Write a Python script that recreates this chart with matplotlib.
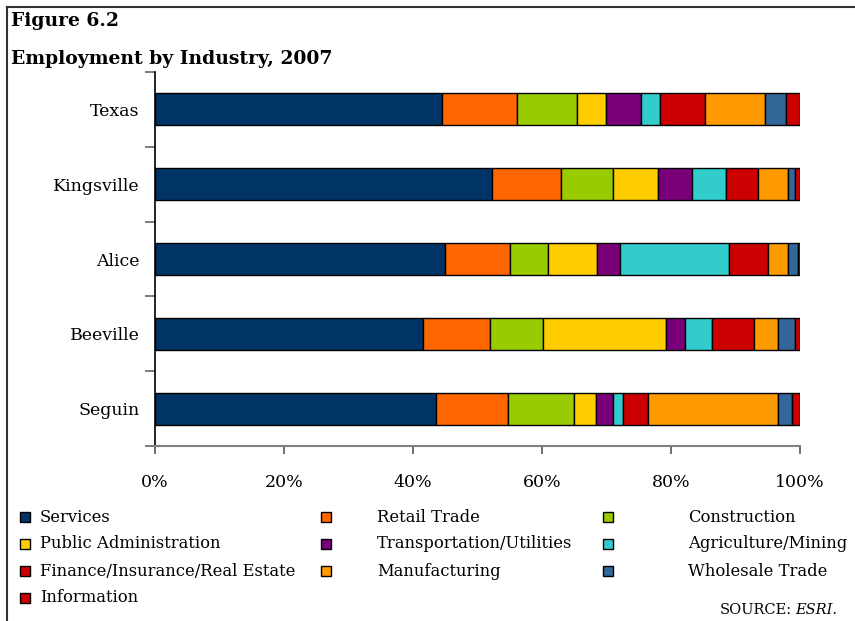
import numpy as np
import matplotlib.pyplot as plt
from matplotlib.patches import Rectangle
from matplotlib.lines import Line2D

# employment shares (%) by industry, 2007
places = ["Texas", "Kingsville", "Alice", "Beeville", "Seguin"]
industries = ["Services", "Retail Trade", "Construction", "Public Administration",
              "Transportation/Utilities", "Agriculture/Mining",
              "Finance/Insurance/Real Estate", "Manufacturing", "Wholesale Trade",
              "Information"]
services = [44.5, 52.2, 44.9, 41.5, 43.6]
retail = [11.6, 10.7, 10.1, 10.4, 11.2]
construction = [9.4, 8.1, 6.0, 8.3, 10.1]
public_admin = [4.4, 7.0, 7.6, 19.1, 3.5]
transport = [5.5, 5.3, 3.5, 2.9, 2.6]
agri_mining = [2.9, 5.2, 16.9, 4.2, 1.5]
fire = [7.0, 5.0, 6.0, 6.5, 4.0]
manufacturing = [9.2, 4.7, 3.1, 3.7, 20.1]
wholesale = [3.4, 1.0, 1.6, 2.6, 2.1]
information = [2.1, 0.8, 0.3, 0.8, 1.3]

series = [services, retail, construction, public_admin, transport,
          agri_mining, fire, manufacturing, wholesale, information]
colors = ["#003366", "#FF6600", "#99CC00", "#FFCC00", "#7A007A",
          "#33CCCC", "#CC0000", "#FF9900", "#336699", "#CC0000"]

W, H = 855, 621
fig = plt.figure(figsize=(W / 100, H / 100), dpi=100)
serif = "DejaVu Serif"

ax = fig.add_axes([155 / W, 1 - 446 / H, 645 / W, 374 / H])

y = np.arange(len(places))
left = np.zeros(len(places))
for vals, col, name in zip(series, colors, industries):
    vals = np.array(vals)
    ax.barh(y, vals, left=left, height=0.43, color=col,
            edgecolor="black", linewidth=1.0, label=name)
    left += vals

ax.set_xlim(0, 100)
ax.set_ylim(len(places) - 0.5, -0.5)
ax.set_xticks(np.arange(0, 101, 20))
ax.set_xticklabels([f"{v}%" for v in range(0, 101, 20)],
                   fontfamily=serif, fontsize=12.5)
ax.set_yticks(y)
ax.set_yticklabels(places, fontfamily=serif, fontsize=12.5)
ax.tick_params(axis="y", which="major", length=0, pad=11)
ax.set_yticks(np.arange(-0.5, len(places)), minor=True)
ax.tick_params(axis="y", which="minor", length=7, color="#666666", width=1.2)
ax.tick_params(axis="x", length=6, color="#555555", width=1.2, pad=14)

for side in ["top", "right"]:
    ax.spines[side].set_visible(False)
ax.spines["left"].set_color("black")
ax.spines["left"].set_linewidth(1.2)
ax.spines["bottom"].set_color("#808080")
ax.spines["bottom"].set_linewidth(1.5)

# page frame
fig.add_artist(Line2D([7 / W, 1], [1 - 7 / H, 1 - 7 / H], color="#333333", lw=1.5))
fig.add_artist(Line2D([7 / W, 7 / W], [0, 1 - 7 / H], color="#333333", lw=1.5))

fig.text(11 / W, 1 - 26 / H, "Figure 6.2", fontfamily=serif, fontweight="bold",
         fontsize=13.5, va="baseline")
fig.text(11 / W, 1 - 64 / H, "Employment by Industry, 2007", fontfamily=serif,
         fontweight="bold", fontsize=13.5, va="baseline")

# legend laid out row by row in three columns
col_x = [25, 326, 608]
text_x = [40, 377, 688]
row_y = [517, 544, 571, 598]
for i, (name, col) in enumerate(zip(industries, colors)):
    r, c = divmod(i, 3)
    cx, cy = col_x[c], row_y[r]
    fig.add_artist(Rectangle(((cx - 5) / W, 1 - (cy + 5) / H), 10 / W, 10 / H,
                             facecolor=col, edgecolor="black", lw=1.0))
    fig.text(text_x[c] / W, 1 - cy / H, name, fontfamily=serif, fontsize=11.8,
             va="center", ha="left")

fig.text(720 / W, 1 - 610 / H, "SOURCE:", fontfamily=serif, fontsize=10.5,
         va="center", ha="left")
fig.text(795 / W, 1 - 610 / H, "ESRI.", fontfamily=serif, fontsize=10.5,
         style="italic", va="center", ha="left")

fig.savefig("out.png", dpi=100)
